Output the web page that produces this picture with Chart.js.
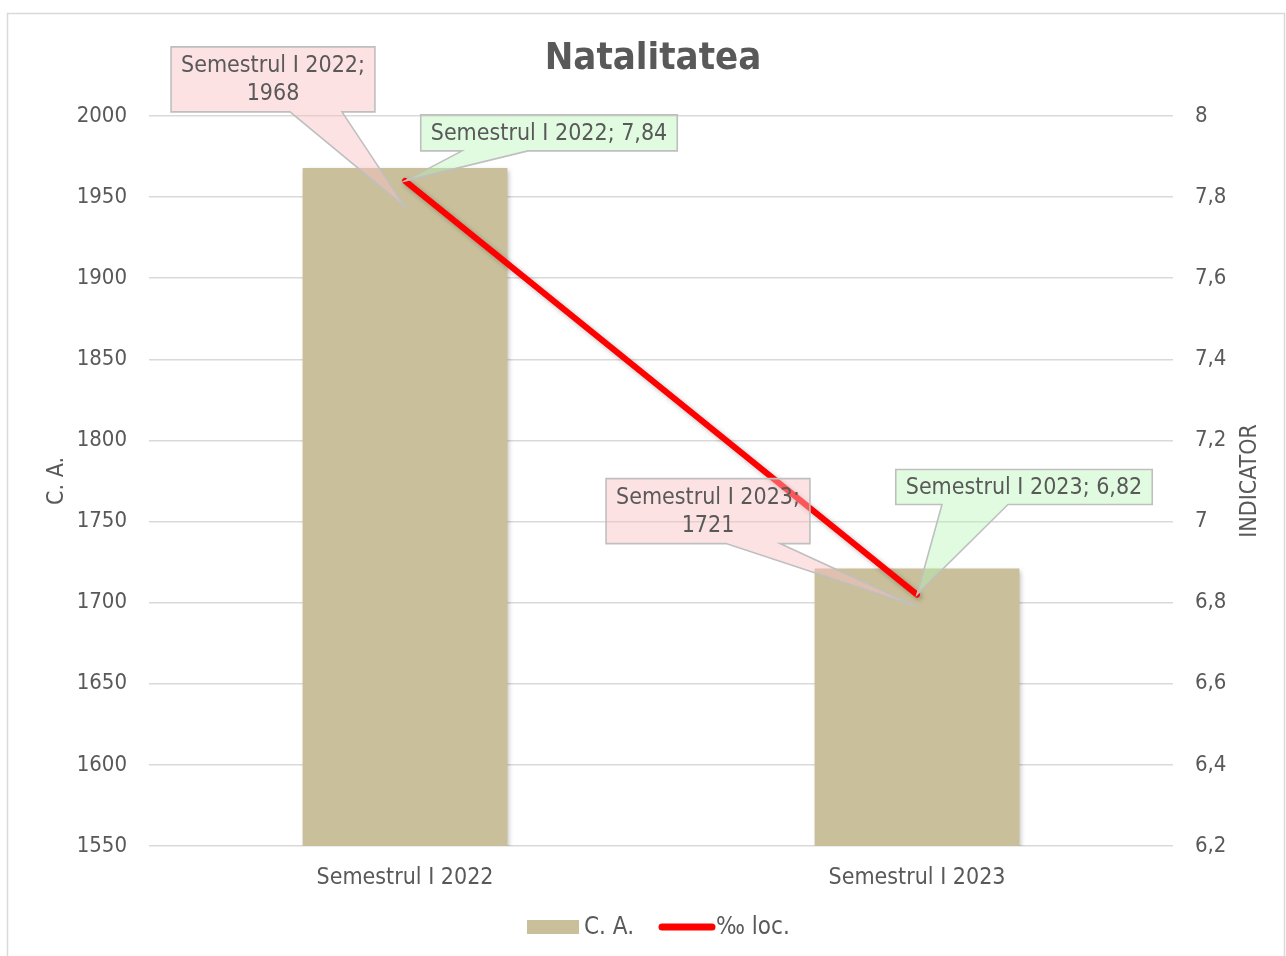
<!DOCTYPE html>
<html><head><meta charset="utf-8">
<script src="https://cdn.jsdelivr.net/npm/chart.js@4"></script>
<style>html,body{margin:0;padding:0;background:#fff}#wrap{position:relative;width:1286px;height:956px}</style>
</head><body><div id="wrap"><canvas id="c" width="1286" height="956"></canvas></div>
<script>
// ---- data ----
const categories = ['Semestrul I 2022', 'Semestrul I 2023'];
const caValues = [1968, 1721];
const locValues = [7.84, 6.82];
const seriesNames = ['C. A.', '\u2030 loc.'];
const leftAxisTitle = 'C. A.';
const rightAxisTitle = 'INDICATOR';
const chartTitle = 'Natalitatea';

// ---- style ----
const FONT = '"DejaVu Sans Condensed", "Open Sans", sans-serif';
const TXT = '#595959';
const GRID = '#D9D9D9';
const BAR = '#C9C09B';
const LINE = '#FF0000';
const fmt = v => String(Number(v.toFixed(2))).replace('.', ',');

// callout placement (relative to anchor point of each mark)
const callouts = [
  [ {dx:-132, dy:-121, h:65, b1:17, b2:69, tx:0, ty:39, lines:2},
    {dx:-209, dy:-90, h:65, b1:18, b2:72, tx:0, ty:38, lines:2} ],
  [ {dx:144, dy:-66, h:36, b1:-87, b2:-21, tx:0, ty:0, lines:1},
    {dx:107, dy:-125, h:35, b1:-82, b2:-16, tx:0, ty:0, lines:1} ]
];
const calloutFill = ['rgba(250,190,195,0.45)', 'rgba(180,245,180,0.40)'];

const shadowPlugin = {
  id: 'shadow',
  beforeDatasetDraw(chart) {
    const ctx = chart.ctx; ctx.save();
    ctx.shadowColor = 'rgba(0,0,0,0.28)'; ctx.shadowBlur = 5;
    ctx.shadowOffsetX = 2; ctx.shadowOffsetY = 2;
  },
  afterDatasetDraw(chart) { chart.ctx.restore(); }
};

const decorPlugin = {
  id: 'decor',
  afterDatasetsDraw(chart) {
    const ctx = chart.ctx;
    ctx.save();
    ctx.font = '23px ' + FONT;
    chart.data.datasets.forEach((ds, di) => {
      const meta = chart.getDatasetMeta(di);
      meta.data.forEach((el, i) => {
        const c = callouts[di][i];
        const ax = el.x, ay = el.y;
        const val = fmt(ds.data[i]);
        const lines = c.lines === 2 ? [categories[i] + ';', val] : [categories[i] + '; ' + val];
        const tw = Math.max(...lines.map(l => ctx.measureText(l).width));
        const w = tw + 20;
        const cx = ax + c.dx, top = ay + c.dy, bot = top + c.h;
        const L = cx - w / 2, R = cx + w / 2;
        ctx.beginPath();
        ctx.moveTo(L, top); ctx.lineTo(R, top); ctx.lineTo(R, bot);
        ctx.lineTo(cx + c.b2, bot); ctx.lineTo(ax + c.tx, ay + c.ty); ctx.lineTo(cx + c.b1, bot);
        ctx.lineTo(L, bot); ctx.closePath();
        ctx.fillStyle = calloutFill[di]; ctx.fill();
        ctx.strokeStyle = '#BFBFBF'; ctx.lineWidth = 1.6; ctx.stroke();
        ctx.fillStyle = TXT; ctx.textAlign = 'center'; ctx.textBaseline = 'middle';
        const lh = 28;
        const y0 = (top + bot) / 2 - (lines.length - 1) * lh / 2;
        lines.forEach((l, k) => ctx.fillText(l, cx, y0 + k * lh + 1));
      });
    });
    ctx.restore();
  },
  afterDraw(chart) {
    const ctx = chart.ctx;
    ctx.save();
    ctx.strokeStyle = GRID; ctx.lineWidth = 1.5;
    ctx.strokeRect(7.5, 13.5, 1277, 980);
    ctx.fillStyle = TXT; ctx.textAlign = 'center'; ctx.textBaseline = 'middle';
    ctx.font = 'bold 38px ' + FONT;
    ctx.fillText(chartTitle, 653, 59);
    ctx.font = '23px ' + FONT;
    const ca = chart.chartArea;
    const midY = (ca.top + ca.bottom) / 2;
    ctx.save(); ctx.translate(57, midY); ctx.rotate(-Math.PI / 2); ctx.fillText(leftAxisTitle, 0, 0); ctx.restore();
    ctx.save(); ctx.translate(1250, midY); ctx.rotate(-Math.PI / 2); ctx.fillText(rightAxisTitle, 0, 0); ctx.restore();
    ctx.font = '24px ' + FONT; ctx.textAlign = 'left';
    const ly = 927;
    ctx.fillStyle = BAR; ctx.fillRect(527, ly - 7, 52, 14);
    ctx.fillStyle = TXT; ctx.fillText(seriesNames[0], 584, ly + 1);
    ctx.strokeStyle = LINE; ctx.lineWidth = 7; ctx.lineCap = 'round';
    ctx.beginPath(); ctx.moveTo(662, ly); ctx.lineTo(712, ly); ctx.stroke();
    ctx.fillStyle = TXT; ctx.fillText(seriesNames[1], 716, ly + 1);
    ctx.restore();
  }
};

new Chart(document.getElementById('c'), {
  data: {
    labels: categories,
    datasets: [
      { type: 'bar', label: seriesNames[0], data: caValues, backgroundColor: BAR, yAxisID: 'y',
        barPercentage: 0.4, categoryPercentage: 1.0, order: 2 },
      { type: 'line', label: seriesNames[1], data: locValues, borderColor: LINE, borderWidth: 6,
        borderCapStyle: 'round', pointRadius: 0, yAxisID: 'y1', order: 1 }
    ]
  },
  options: {
    responsive: false, animation: false,
    layout: { padding: { top: 116, left: 0, right: 0, bottom: 0 } },
    plugins: { legend: { display: false }, title: { display: false }, tooltip: { enabled: false } },
    scales: {
      x: { grid: { display: false }, border: { display: false },
           ticks: { color: TXT, font: { family: FONT, size: 23 }, padding: 10 },
           afterFit(s) { s.height = 110; } },
      y: { position: 'left', min: 1550, max: 2000,
           ticks: { stepSize: 50, color: TXT, font: { family: FONT, size: 22 }, padding: 22, callback: v => String(v) },
           grid: { color: GRID, lineWidth: 1.5, drawTicks: false }, border: { display: false },
           afterFit(s) { s.width = 149; } },
      y1: { position: 'right', min: 6.2, max: 8,
            ticks: { stepSize: 0.2, color: TXT, font: { family: FONT, size: 22 }, padding: 22, callback: v => fmt(v) },
            grid: { drawOnChartArea: false, drawTicks: false }, border: { display: false },
            afterFit(s) { s.width = 113; } }
    }
  },
  plugins: [shadowPlugin, decorPlugin]
});
</script></body></html>
